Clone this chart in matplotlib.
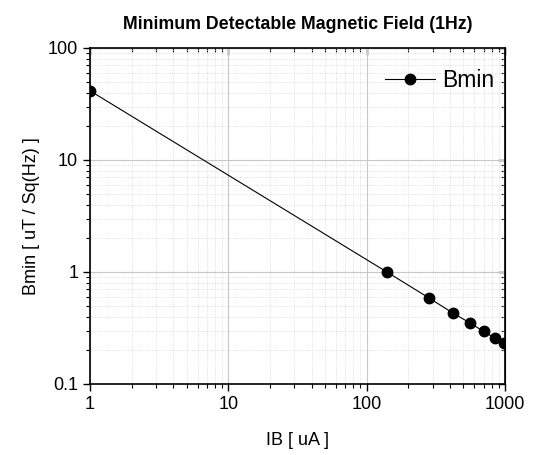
import matplotlib.pyplot as plt
from matplotlib.ticker import LogLocator, FixedLocator, NullFormatter, FuncFormatter

plt.rcParams["font.family"] = ["Liberation Sans", "DejaVu Sans"]

# bias current (uA) and minimum detectable field (uT/sqrt(Hz))
ib_ua = [1, 140, 280, 420, 560, 700, 840, 980]
bmin = [41.5, 1.0, 0.59, 0.43, 0.35, 0.295, 0.258, 0.23]

x_ticks = [1, 10, 100, 1000]
y_ticks = [0.1, 1, 10, 100]
y_tick_labels = ["0.1", "1", "10", "100"]

fig = plt.figure(figsize=(5.38, 4.55), dpi=100)
ax = fig.add_axes([90 / 538, 1 - 384 / 455, 415 / 538, 336 / 455])

ax.plot(ib_ua, bmin, color="black", linewidth=0.8, marker="o",
        markersize=7.5, label="Bmin", zorder=3)

ax.set_xscale("log")
ax.set_yscale("log")
ax.set_xlim(1, 1000)
ax.set_ylim(0.1, 100)

ax.xaxis.set_major_locator(FixedLocator(x_ticks))
ax.yaxis.set_major_locator(FixedLocator(y_ticks))
ax.xaxis.set_major_formatter(FuncFormatter(lambda v, _: f"{v:g}"))
ax.yaxis.set_major_formatter(FuncFormatter(lambda v, _: y_tick_labels[y_ticks.index(round(v, 3))] if round(v, 3) in y_ticks else ""))
for axis in (ax.xaxis, ax.yaxis):
    axis.set_minor_locator(LogLocator(base=10, subs=range(2, 10)))
    axis.set_minor_formatter(NullFormatter())

ax.grid(True, which="major", color="#c8c8c8", linewidth=0.8, linestyle="-")
ax.grid(True, which="minor", color="#d4d4d4", linewidth=0.6, linestyle=":")
ax.set_axisbelow(True)

ax.tick_params(which="major", direction="out", length=5, width=1, labelsize=13, colors="black")
ax.tick_params(which="minor", direction="out", length=3, width=0.8)
for spine in ax.spines.values():
    spine.set_linewidth(1.2)

# mirrored ticks on the top and right edges point inward
top = ax.secondary_xaxis("top")
top.xaxis.set_major_locator(FixedLocator(x_ticks))
top.xaxis.set_minor_locator(LogLocator(base=10, subs=range(2, 10)))
top.xaxis.set_major_formatter(NullFormatter())
top.xaxis.set_minor_formatter(NullFormatter())
top.tick_params(which="major", direction="in", length=5, width=1)
top.tick_params(which="minor", direction="in", length=3, width=0.8)
right = ax.secondary_yaxis("right")
right.yaxis.set_major_locator(FixedLocator(y_ticks))
right.yaxis.set_minor_locator(LogLocator(base=10, subs=range(2, 10)))
right.yaxis.set_major_formatter(NullFormatter())
right.yaxis.set_minor_formatter(NullFormatter())
right.tick_params(which="major", direction="in", length=5, width=1)
right.tick_params(which="minor", direction="in", length=3, width=0.8)

ax.set_xlabel("IB [ uA ]", fontsize=13, labelpad=14)
ax.set_ylabel("Bmin [ uT / Sq(Hz) ]", fontsize=13, labelpad=6)
ax.set_title("Minimum Detectable Magnetic Field (1Hz)", fontsize=12.8,
             fontweight="bold", pad=14)

ax.legend(loc="upper right", frameon=False, fontsize=16.5, handlelength=2.2,
          handletextpad=0.3, borderaxespad=0.3, bbox_to_anchor=(1.012, 0.985))

fig.savefig("out.png", dpi=100)
